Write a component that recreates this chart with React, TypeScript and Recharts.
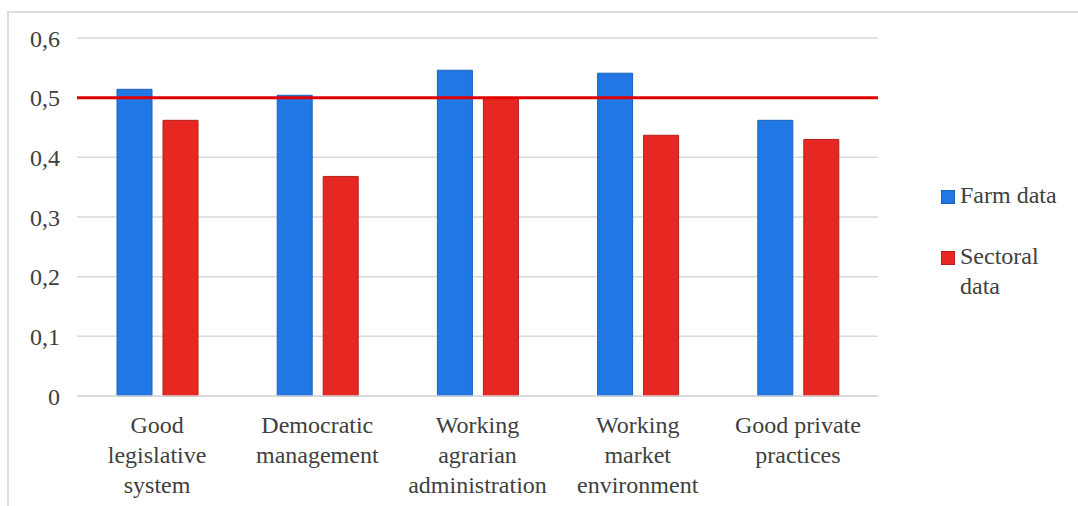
import { BarChart, Bar, XAxis, YAxis, CartesianGrid, ReferenceLine } from 'recharts';

const categories = [
  'Good\nlegislative\nsystem',
  'Democratic\nmanagement',
  'Working\nagrarian\nadministration',
  'Working\nmarket\nenvironment',
  'Good private\npractices',
];
const farmData = [0.514, 0.504, 0.546, 0.541, 0.462];
const sectoralData = [0.462, 0.368, 0.499, 0.437, 0.43];
const yTicks = [0, 0.1, 0.2, 0.3, 0.4, 0.5, 0.6];
const threshold = 0.5;

const FONT = '"Liberation Serif"';
const TEXT = '#404040';
const BLUE = '#2178e4';
const RED = '#e72721';

const data = categories.map((name, i) => ({
  name,
  farm: farmData[i],
  sectoral: sectoralData[i],
}));

const CategoryTick = ({ x, y, payload }: { x?: number; y?: number; payload?: { value: string } }) => {
  const lines = (payload?.value ?? '').split('\n');
  return (
    <text x={x} y={y} textAnchor="middle" fill={TEXT} style={{ fontFamily: FONT, fontSize: 24 }}>
      {lines.map((line, i) => (
        <tspan key={i} x={x} dy={i === 0 ? 29 : 30}>
          {line}
        </tspan>
      ))}
    </text>
  );
};

export default function App() {
  return (
    <div style={{ position: 'absolute', left: 0, top: 0, width: 1078, height: 506, background: '#fff', fontFamily: FONT }}>
      <div
        style={{
          position: 'absolute',
          left: 7,
          top: 11,
          width: 1078,
          height: 506,
          borderTop: '2px solid #dcdcdc',
          borderLeft: '2px solid #dcdcdc',
        }}
      />
      <BarChart
        width={1078}
        height={506}
        data={data}
        margin={{ top: 38, right: 200, bottom: 0, left: 0 }}
        barGap={11}
        barSize={35}
        style={{ fontFamily: FONT }}
      >
        <CartesianGrid vertical={false} stroke="#d9d9d9" strokeWidth={1.5} />
        <XAxis
          dataKey="name"
          axisLine={{ stroke: '#d9d9d9', strokeWidth: 1.5 }}
          tickLine={false}
          interval={0}
          tick={<CategoryTick />}
          height={110}
        />
        <YAxis
          width={77}
          domain={[0, 0.6]}
          ticks={yTicks}
          axisLine={false}
          tickLine={false}
          tickSize={0}
          tickMargin={17}
          tick={{ fill: TEXT, fontSize: 24, style: { fontFamily: FONT } }}
          tickFormatter={(v: number) => (v === 0 ? '0' : v.toFixed(1).replace('.', ','))}
        />
        <Bar dataKey="farm" fill={BLUE} stroke="#1c62bd" strokeWidth={1} isAnimationActive={false} />
        <Bar dataKey="sectoral" fill={RED} stroke="#b41f1b" strokeWidth={1} isAnimationActive={false} />
        <ReferenceLine y={threshold} stroke="#e00000" strokeWidth={3} />
      </BarChart>
      <div style={{ position: 'absolute', left: 941, top: 180, fontSize: 24, color: TEXT, lineHeight: '30px' }}>
        <div style={{ display: 'flex', alignItems: 'flex-start' }}>
          <span style={{ width: 12, height: 12, background: BLUE, border: '1px solid #1c62bd', marginTop: 10, marginRight: 5 }} />
          <span>Farm data</span>
        </div>
        <div style={{ display: 'flex', alignItems: 'flex-start', marginTop: 31 }}>
          <span style={{ width: 12, height: 12, background: RED, border: '1px solid #b41f1b', marginTop: 10, marginRight: 5 }} />
          <span>
            Sectoral
            <br />
            data
          </span>
        </div>
      </div>
    </div>
  );
}
